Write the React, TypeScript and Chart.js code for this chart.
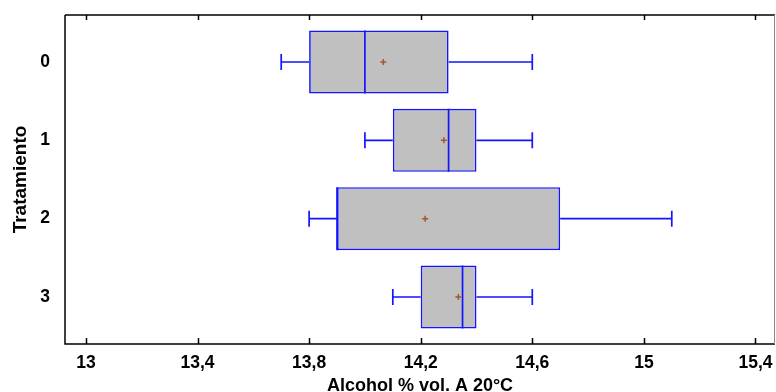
import React, { useEffect, useRef } from "react";
import { Chart, registerables } from "chart.js";

Chart.register(...registerables);

const categories = ["0", "1", "2", "3"];
const whiskerLow = [13.7, 14.0, 13.8, 14.1];
const q1 = [13.8, 14.1, 13.9, 14.2];
const median = [14.0, 14.3, 13.9, 14.35];
const q3 = [14.3, 14.4, 14.7, 14.4];
const whiskerHigh = [14.6, 14.6, 15.1, 14.6];
const means = [14.066, 14.283, 14.216, 14.335];
const xTickValues = [13, 13.4, 13.8, 14.2, 14.6, 15, 15.4];
const xTickLabels = ["13", "13,4", "13,8", "14,2", "14,6", "15", "15,4"];
const xMin = 12.925;
const xMax = 15.47;
const xTitle = "Alcohol % vol. A 20°C";
const yTitle = "Tratamiento";

const FONT = "'Liberation Sans', Arial, sans-serif";
const BLUE = "#1414ff";

const boxPlugin = {
  id: "boxExtras",
  afterDatasetsDraw(chart: any) {
    const { ctx } = chart;
    const x = chart.scales.x;
    const y = chart.scales.y;
    const meta = chart.getDatasetMeta(0);
    ctx.save();
    categories.forEach((_, i) => {
      const el = meta.data[i] as any;
      const half = el.height / 2;
      const cy = y.getPixelForValue(i);
      const pL = x.getPixelForValue(whiskerLow[i]);
      const p1 = x.getPixelForValue(q1[i]);
      const p3 = x.getPixelForValue(q3[i]);
      const pH = x.getPixelForValue(whiskerHigh[i]);
      const pM = x.getPixelForValue(median[i]);
      const pMean = x.getPixelForValue(means[i]);
      ctx.strokeStyle = BLUE;
      ctx.lineWidth = 1.7;
      ctx.beginPath();
      ctx.moveTo(pL, cy);
      ctx.lineTo(p1, cy);
      ctx.moveTo(p3, cy);
      ctx.lineTo(pH, cy);
      ctx.moveTo(pL, cy - 8);
      ctx.lineTo(pL, cy + 8);
      ctx.moveTo(pH, cy - 8);
      ctx.lineTo(pH, cy + 8);
      ctx.moveTo(pM, cy - half);
      ctx.lineTo(pM, cy + half);
      ctx.stroke();
      ctx.strokeStyle = "#a5562a";
      ctx.lineWidth = 1.5;
      ctx.beginPath();
      ctx.moveTo(pMean - 3, cy);
      ctx.lineTo(pMean + 3, cy);
      ctx.moveTo(pMean, cy - 3);
      ctx.lineTo(pMean, cy + 3);
      ctx.stroke();
    });
    ctx.restore();
  },
  afterDraw(chart: any) {
    const { ctx, chartArea } = chart;
    const { left, right, top, bottom } = chartArea;
    const x = chart.scales.x;
    ctx.save();
    ctx.strokeStyle = "#000";
    ctx.lineWidth = 1.5;
    ctx.beginPath();
    ctx.moveTo(left, top);
    ctx.lineTo(right, top);
    ctx.moveTo(left, top);
    ctx.lineTo(left, bottom);
    ctx.lineTo(right, bottom);
    xTickValues.forEach((v) => {
      const px = Math.round(x.getPixelForValue(v)) + 0.5;
      ctx.moveTo(px, top);
      ctx.lineTo(px, top + 5);
      ctx.moveTo(px, bottom);
      ctx.lineTo(px, bottom - 6);
    });
    ctx.stroke();
    ctx.strokeStyle = "#888";
    ctx.lineWidth = 1;
    ctx.beginPath();
    ctx.moveTo(right - 0.5, top);
    ctx.lineTo(right - 0.5, bottom);
    ctx.stroke();
    ctx.restore();
  },
};

export default function App() {
  const canvasRef = useRef<HTMLCanvasElement | null>(null);

  useEffect(() => {
    const canvas = canvasRef.current;
    if (!canvas) return;
    const tickFont = { family: FONT, size: 17.5, weight: "bold" as const };
    const titleFont = { family: FONT, size: 18, weight: "bold" as const };
    const yTitleFont = { family: FONT, size: 19, weight: "bold" as const };
    const chart = new Chart(canvas, {
      type: "bar",
      data: {
        datasets: [
          {
            data: categories.map((_, i) => ({ x: [q1[i], q3[i]], y: i })) as any,
            backgroundColor: "#c0c0c0",
            borderColor: BLUE,
            borderWidth: 1.7,
            borderSkipped: false,
            barPercentage: 0.805,
            categoryPercentage: 1,
          },
        ],
      },
      options: {
        indexAxis: "y",
        animation: false,
        responsive: false,
        maintainAspectRatio: false,
        layout: { padding: { top: 15, right: 1, left: 0, bottom: 0 } },
        plugins: {
          legend: { display: false },
          tooltip: { enabled: false },
        },
        scales: {
          x: {
            type: "linear",
            min: xMin,
            max: xMax,
            afterBuildTicks: (s: any) => {
              s.ticks = xTickValues.map((v) => ({ value: v }));
            },
            afterFit: (s: any) => {
              s.height = 48;
              s.paddingLeft = 0;
              s.paddingRight = 0;
            },
            ticks: {
              autoSkip: false,
              maxRotation: 0,
              color: "#000",
              font: tickFont,
              padding: 9,
              callback: (v: any) => xTickLabels[xTickValues.indexOf(Number(v))],
            },
            grid: { display: false, drawTicks: false },
            border: { display: false },
            title: {
              display: true,
              text: xTitle,
              color: "#000",
              font: titleFont,
              padding: { top: 0, bottom: -5 },
            },
          },
          y: {
            type: "linear",
            reverse: true,
            offset: false,
            min: -0.6,
            max: 3.6,
            afterBuildTicks: (s: any) => {
              s.ticks = categories.map((_, i) => ({ value: i }));
            },
            afterFit: (s: any) => {
              s.width = 65;
              s.paddingTop = 0;
              s.paddingBottom = 0;
            },
            ticks: {
              color: "#000",
              font: tickFont,
              padding: 15,
              callback: (v: any) => categories[Number(v)],
            },
            grid: { display: false, drawTicks: false },
            border: { display: false },
            title: {
              display: true,
              text: yTitle,
              color: "#000",
              font: yTitleFont,
              padding: { top: 9, bottom: 0 },
            },
          },
        },
      },
      plugins: [boxPlugin],
    });
    return () => chart.destroy();
  }, []);

  return (
    <div style={{ position: "absolute", left: 0, top: 0, width: 776, height: 392 }}>
      <canvas ref={canvasRef} width={776} height={392} />
    </div>
  );
}
